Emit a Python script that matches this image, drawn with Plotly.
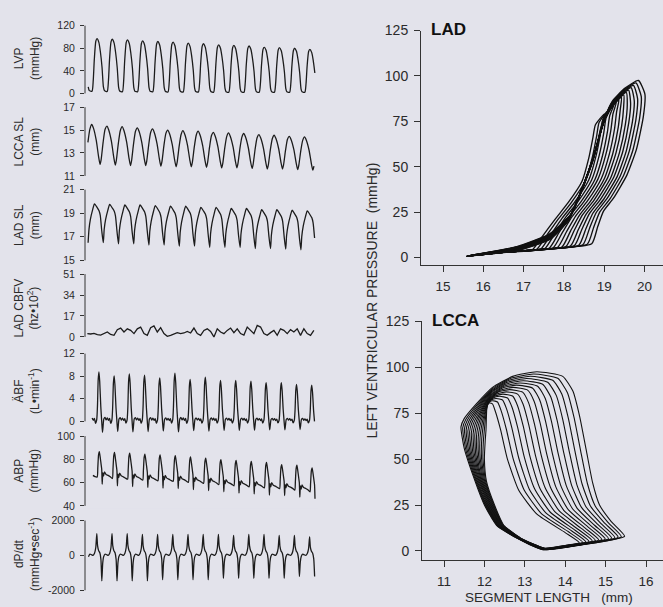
import numpy as np
import plotly.graph_objects as go

W, H = 663, 607

# ---------------- left strip charts: values ----------------
BEAT_PERIOD_S = 0.4
T_END = 6.0

# LVP (mmHg)
LVP_PEAK = [97, 96, 95, 93, 92, 91, 89, 88, 86, 85, 84, 82, 81, 80, 78]
LVP_MIN = [4, 3.5, 3, 3, 3, 2.5, 2.5, 2.5, 2, 2, 2, 2, 2, 2, 2]
LVP_ONSET_S = 0.132
LVP_PHASE = [0, .08, .15, .25, .33, .45, .55, .66, .75, .82]
LVP_SHAPE = [0, .2, .6, .95, 1, .93, .75, .45, .08, .01]

# LCCA segment length (mm)
LCCA_PEAK = [15.5, 15.35, 15.3, 15.2, 15.1, 15.0, 14.95, 14.9, 14.8, 14.75, 14.7, 14.6, 14.55, 14.45, 14.4]
LCCA_MIN = [12.0, 11.95, 11.9, 11.9, 11.85, 11.8, 11.8, 11.75, 11.7, 11.7, 11.65, 11.6, 11.6, 11.55, 11.5]
LCCA_ONSET_S = 0.124
LCCA_PHASE = [0, .12, .3, .45, .55, .62, .75, .88]
LCCA_SHAPE = [1, .9, .6, .2, 0, .12, .55, .88]

# LAD segment length (mm)
LADSL_PEAK = [19.8, 19.75, 19.7, 19.7, 19.65, 19.6, 19.6, 19.5, 19.5, 19.4, 19.4, 19.3, 19.3, 19.25, 19.2]
LADSL_MIN = [16.5, 16.5, 16.4, 16.4, 16.3, 16.3, 16.2, 16.2, 16.1, 16.1, 16.1, 16.0, 16.0, 15.95, 15.9]
LADSL_ONSET_S = 0.029
LADSL_PHASE = [0, .06, .15, .3, .42, .6, .72, .8, .9]
LADSL_SHAPE = [0, .35, .6, .85, 1, .9, .82, .7, .3]

# LAD CBFV (hz*10^2)
CBFV = [2.7, 2.4, 2.9, 1.8, 1.5, 2.7, 4.0, 2.0, 1.3, 5.9, 7.2, 4.0, 6.6, 5.3, 2.7, 6.6, 8.0,
        2.7, 1.3, 7.5, 9.0, 4.0, 7.5, 2.7, 0.5, 1.3, 2.7, 3.5, 2.7, 3.2, 4.5, 3.2, 7.2, 2.7,
        1.3, 5.3, 6.6, 4.5, 0.0, 6.6, 4.0, 2.7, 5.3, 7.2, 3.5, 6.6, 2.7, 1.5, 8.0, 5.3, 2.7,
        9.3, 8.0, 2.7, 1.3, 3.5, 5.3, 1.3, 6.6, 5.3, 2.7, 5.9, 4.0, 6.6, 1.3, 6.6, 2.7, 1.3, 5.3]
CBFV_T_START, CBFV_T_STOP = 0.009, 5.97

# Aortic blood flow (L/min)
ABF_PEAK = [8.75, 8.06, 8.41, 8.17, 7.71, 8.52, 7.42, 7.83, 7.25, 7.25, 7.13, 6.84, 6.84, 6.55, 6.43]
ABF_ONSET_S = 0.255
ABF_PHASE = [0, .05, .1, .15, .2, .27, .33, .38, .42, .47, .55, .62, .7, .78, .85, .92]
ABF_SHAPE = [.03, .3, .85, 1.0, .8, .3, 0.0, -.22, -.1, .05, .08, .03, .07, .02, .06, -.04]

# Arterial blood pressure (mmHg)
ABP_PEAK = [86.7, 85.9, 85.4, 84.5, 83.9, 83.1, 82.0, 81.1, 79.7, 79.1, 78.3, 77.4, 75.5, 74.9, 72.7]
ABP_MIN = [58.6, 57.2, 56.6, 55.8, 55.2, 54.9, 54.0, 53.2, 52.1, 51.0, 50.2, 49.3, 48.9, 47.5, 46.1]
ABP_ONSET_S = 0.268
ABP_PHASE = [0, .04, .09, .14, .2, .26, .3, .33, .37, .42, .48, .58, .72, .86]
ABP_SHAPE = [.22, .5, .9, 1.0, .82, .6, .45, 0.0, .35, .25, .38, .3, .27, .23]

# dP/dt (mmHg/sec)
DPDT_MAX = [1250, 1250, 1250, 1210, 1210, 1210, 1210, 1210, 1210, 1150, 1210, 1210, 1150, 1150, 1060]
DPDT_MIN = [-1460, -1460, -1460, -1460, -1400, -1400, -1400, -1400, -1310, -1310, -1310, -1310, -1310, -1210, -1210]
DPDT_ONSET_S = 0.158
DPDT_PHASE = [0, .1, .18, .25, .3, .37, .45, .52, .58, .64, .7, .8, .9]
DPDT_SHAPE = [0, .1, .35, 1.0, .45, .22, .12, -.15, -1.0, -.3, -.05, .06, .03]

# ---------------- pressure / segment-length loops ----------------
# end-diastolic segment length of each successive loop
LAD_ED_LEN = [18.69, 18.58, 18.47, 18.37, 18.26, 18.16, 18.05, 17.95, 17.84, 17.73, 17.63, 17.52, 17.42, 17.31, 17.2]
LCCA_ED_LEN = [15.47, 15.39, 15.31, 15.23, 15.15, 15.07, 14.99, 14.91, 14.83, 14.75, 14.67, 14.59, 14.51, 14.43, 14.35]

# outline of first (largest) and last (smallest) loop
LAD_FIRST_X = [18.69, 18.84, 18.98, 19.23, 19.56, 19.8, 19.97, 20.01, 19.85, 19.5, 19.2, 19.0, 18.82, 18.65,
               18.45, 18.18, 17.65, 16.83, 15.6, 16.41, 17.5, 18.69]
LAD_FIRST_P = [7.5, 17, 25.4, 32.6, 45.2, 59.5, 77.4, 90, 97.5, 93, 86, 76, 62, 50, 38, 24, 13, 5.9, 0.7, 2.6, 4.6, 7.5]
LAD_LAST_X = [17.2, 17.48, 17.78, 18.1, 18.45, 18.62, 18.72, 18.78, 19.0, 18.97, 18.9, 18.82, 18.7, 18.5,
              18.3, 18.1, 17.66, 16.86, 15.6, 16.41, 16.8, 17.2]
LAD_LAST_P = [3.9, 12, 21, 30, 42, 55, 66, 73, 79, 76, 70, 62, 52, 40, 29, 20, 10, 3.8, 0.7, 2.6, 3.2, 3.9]

LCCA_FIRST_X = [15.47, 15.14, 14.85, 14.68, 14.52, 14.36, 14.19, 13.94, 13.3, 12.7, 12.2, 11.8, 11.5, 11.42,
                11.5, 11.72, 12.0, 12.3, 12.8, 13.45, 14.43, 15.47]
LCCA_FIRST_P = [8.0, 16, 25, 37, 55, 73, 87, 95, 97.5, 95, 89, 80, 72, 67.5, 56, 41, 25, 14, 7, 0.7, 3.4, 8.0]
LCCA_LAST_X = [14.35, 14.0, 13.3, 12.85, 12.57, 12.4, 12.27, 12.2, 12.12, 12.08, 12.06, 12.05, 12.04, 12.02,
               12.0, 12.05, 12.25, 12.48, 12.9, 13.5, 14.0, 14.35]
LCCA_LAST_P = [4.5, 10, 20, 33, 50, 66, 76, 80, 80.5, 80, 78, 73, 66, 60, 50, 38, 25, 14, 7, 1.5, 3.0, 4.5]

# ---------------- styling ----------------
BG = "#e3e3eb"
INK = "#1c1c1c"
TXT = "#2a2a2a"
FONT = "Liberation Sans, Arial, sans-serif"


def beat_series(t0, phases, shape, lo, hi, mode):
    xs, ys = [], []
    for k in range(-1, len(hi)):
        j = max(k, 0)
        for ph, s in zip(phases, shape):
            if k < 0 and ph < 0.66:
                continue
            t = t0 + (k + ph) * BEAT_PERIOD_S
            if t < 0 or t > T_END:
                continue
            if mode == "range":
                y = lo[j] + (hi[j] - lo[j]) * s
            elif mode == "scale":
                y = hi[j] * s
            else:
                y = s * hi[j] if s >= 0 else -s * lo[j]
            xs.append(t)
            ys.append(y)
    return xs, ys


fig = go.Figure()

left_series = [
    beat_series(LVP_ONSET_S, LVP_PHASE, LVP_SHAPE, LVP_MIN, LVP_PEAK, "range"),
    beat_series(LCCA_ONSET_S, LCCA_PHASE, LCCA_SHAPE, LCCA_MIN, LCCA_PEAK, "range"),
    beat_series(LADSL_ONSET_S, LADSL_PHASE, LADSL_SHAPE, LADSL_MIN, LADSL_PEAK, "range"),
    (list(np.linspace(CBFV_T_START, CBFV_T_STOP, len(CBFV))), CBFV),
    beat_series(ABF_ONSET_S, ABF_PHASE, ABF_SHAPE, None, ABF_PEAK, "scale"),
    beat_series(ABP_ONSET_S, ABP_PHASE, ABP_SHAPE, ABP_MIN, ABP_PEAK, "range"),
    beat_series(DPDT_ONSET_S, DPDT_PHASE, DPDT_SHAPE, DPDT_MIN, DPDT_MAX, "signed"),
]

# panel geometry: (tick min, tick max, px of max tick, px of min tick, ticks, pad top, pad bottom, label, label center px)
left_panels = [
    (0, 120, 18, 87, [0, 40, 80, 120], 4, 4, "LVP<br>(mmHg)", 52),
    (11, 17, 101, 171, [11, 13, 15, 17], 4, 4, "LCCA SL<br>(mm)", 136),
    (15, 21, 185, 257, [15, 17, 19, 21], 4, 4, "LAD SL<br>(mm)", 221),
    (0, 51, 271, 335, [0, 17, 34, 51], 4, 4, "LAD CBFV<br>(hz•10<sup>2</sup>)", 306),
    (0, 12, 352, 421, [0, 4, 8, 12], 4, 15, "ÄBF<br>(L•min<sup>-1</sup>)", 390),
    (40, 100, 436, 507, [40, 60, 80, 100], 2, 3, "ABP<br>(mmHg)", 472),
    (-2000, 2000, 522, 593, [-2000, 0, 2000], 4, 4, "dP/dt<br>(mmHg•sec<sup>-1</sup>)", 556),
]
left_linear = [False, False, False, True, False, False, False]

LX0, LX1 = 85, 318
PX_PER_S = 38.0
t_lo = (LX0 - 87) / PX_PER_S
t_hi = (LX1 - 87) / PX_PER_S

layout = dict(
    width=W, height=H, autosize=False,
    margin=dict(l=0, r=0, t=0, b=0, pad=0),
    paper_bgcolor=BG, plot_bgcolor=BG,
    showlegend=False,
    font=dict(family=FONT, color=TXT),
)
shapes = []
annotations = []

for i, ((xs, ys), pnl, lin) in enumerate(zip(left_series, left_panels, left_linear), start=1):
    vmin, vmax, pytop, pybot, ticks, padt, padb, label, lab_y = pnl
    scale = (vmax - vmin) / (pybot - pytop)
    rng = [vmin - padb * scale, vmax + padt * scale]
    dom = [1 - (pybot + padb) / H, 1 - (pytop - padt) / H]
    sx = "" if i == 1 else str(i)
    line = dict(color=INK, width=1.3)
    if not lin:
        line.update(shape="spline", smoothing=0.6)
    fig.add_trace(go.Scatter(x=xs, y=ys, mode="lines", xaxis="x" + sx, yaxis="y" + sx,
                             line=line, hoverinfo="skip"))
    layout["xaxis" + sx] = dict(domain=[LX0 / W, LX1 / W], range=[t_lo, t_hi], visible=False,
                                anchor="y" + sx, fixedrange=True)
    layout["yaxis" + sx] = dict(domain=dom, range=rng, anchor="x" + sx, tickvals=ticks,
                                ticktext=[str(v) for v in ticks],
                                ticks="outside", ticklen=4, tickwidth=1, tickcolor="#333",
                                showline=False, showgrid=False, zeroline=False,
                                tickfont=dict(size=10.5, color=TXT, family=FONT),
                                ticklabelstandoff=3, fixedrange=True)
    shapes.append(dict(type="line", xref="paper", x0=LX0 / W, x1=LX0 / W,
                       yref="y" + sx, y0=vmin, y1=vmax,
                       line=dict(color="#333", width=1)))
    annotations.append(dict(text=label, xref="paper", yref="paper", x=27 / W, y=1 - lab_y / H,
                            xanchor="center", yanchor="middle", textangle=-90, showarrow=False,
                            font=dict(size=12, color=TXT, family=FONT)))


def loop_family(ed, ax, ap, bx, by):
    ax, ap, bx, by = map(np.asarray, (ax, ap, bx, by))
    out = []
    for e in ed:
        w = (ed[0] - e) / (ed[0] - ed[-1])
        out.append((ax + w * (bx - ax), ap + w * (by - ap)))
    return out


right_panels = [
    ("8", loop_family(LAD_ED_LEN, LAD_FIRST_X, LAD_FIRST_P, LAD_LAST_X, LAD_LAST_P),
     (15, 443, 40.3), (421, 663), (23, 254, 262), [15, 16, 17, 18, 19, 20], "LAD", 1.35),
    ("9", loop_family(LCCA_ED_LEN, LCCA_FIRST_X, LCCA_FIRST_P, LCCA_LAST_X, LCCA_LAST_P),
     (11, 444, 40.4), (422, 663), (319, 553, 562), [11, 12, 13, 14, 15, 16], "LCCA", 1.1),
]

for sx, loops, (xv, xpx, pxu), (px0, px1), (py125, py0, pyax), xt, title, lw in right_panels:
    for lx, lp in loops:
        fig.add_trace(go.Scatter(
            x=lx, y=lp, mode="lines", xaxis="x" + sx, yaxis="y" + sx,
            line=dict(color="#111", width=lw, shape="spline", smoothing=0.5),
            hoverinfo="skip"))
    xr = [xv + (px0 - xpx) / pxu, xv + (px1 - xpx) / pxu]
    ppu = (py0 - py125) / 125.0
    yr = [-(pyax - py0) / ppu, 125]
    layout["xaxis" + sx] = dict(domain=[px0 / W, px1 / W], range=xr, anchor="y" + sx,
                                tickvals=xt, ticks="outside", ticklen=6, tickwidth=1, tickcolor="#333",
                                showline=True, linecolor="#333", linewidth=1,
                                showgrid=False, zeroline=False,
                                tickfont=dict(size=13.5, color=TXT, family=FONT),
                                ticklabelstandoff=3, fixedrange=True)
    layout["yaxis" + sx] = dict(domain=[1 - pyax / H, 1 - py125 / H], range=yr, anchor="x" + sx,
                                tickvals=[0, 25, 50, 75, 100, 125], ticks="outside", ticklen=6,
                                tickwidth=1, tickcolor="#333",
                                showline=True, linecolor="#333", linewidth=1,
                                showgrid=False, zeroline=False,
                                tickfont=dict(size=14, color=TXT, family=FONT),
                                ticklabelstandoff=3, fixedrange=True)
    annotations.append(dict(text="<b>%s</b>" % title, xref="paper", yref="paper",
                            x=(px0 + 8) / W, y=1 - (py125 - 1) / H, xanchor="left", yanchor="middle",
                            showarrow=False, font=dict(size=17, color="#111", family=FONT)))

annotations.append(dict(text="LEFT VENTRICULAR PRESSURE\u00a0\u00a0(mmHg)", xref="paper", yref="paper",
                        x=372 / W, y=1 - 298 / H, textangle=-90, showarrow=False,
                        xanchor="center", yanchor="middle",
                        font=dict(size=14, color=TXT, family=FONT)))
annotations.append(dict(text="SEGMENT LENGTH\u00a0\u00a0\u00a0(mm)", xref="paper", yref="paper",
                        x=549 / W, y=1 - 600 / H, showarrow=False,
                        xanchor="center", yanchor="middle",
                        font=dict(size=13.5, color=TXT, family=FONT)))

layout["shapes"] = shapes
layout["annotations"] = annotations
fig.update_layout(**layout)
fig.write_html(
    "out.html",
    config={"responsive": False, "displayModeBar": False},
    post_script="document.body.style.margin='0';document.body.style.padding='0';"
                "document.body.style.overflow='hidden';document.body.style.background='%s';" % BG,
)
